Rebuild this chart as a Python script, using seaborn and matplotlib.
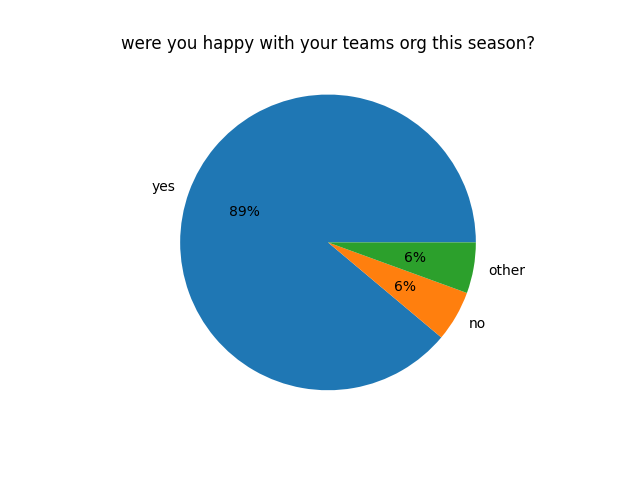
import matplotlib
matplotlib.use("Agg")
import matplotlib.pyplot as plt
import seaborn as sns

labels = ["yes", "no", "other"]
counts = [16, 1, 1]

colors = sns.color_palette("tab10", 3)

fig, ax = plt.subplots(figsize=(6.4, 4.8), dpi=100)
ax.pie(counts, labels=labels, colors=colors, autopct="%1.0f%%")
ax.set_title("were you happy with your teams org this season?")
fig.savefig("out.png", dpi=100)
